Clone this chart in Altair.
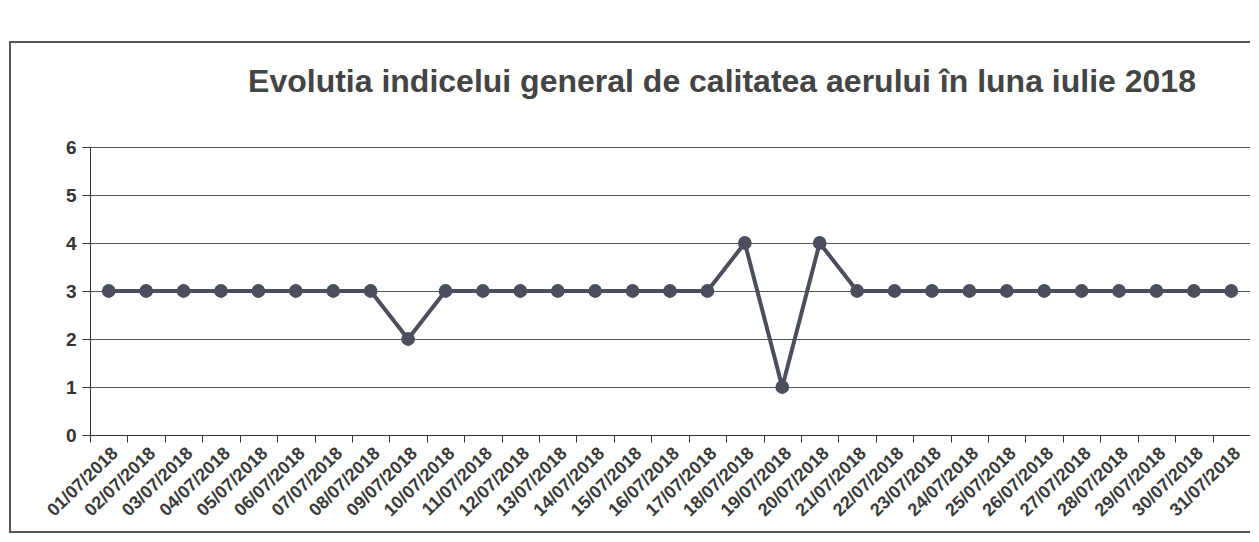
import altair as alt
import pandas as pd

dates = [f"{d:02d}/07/2018" for d in range(1, 32)]
values = [3, 3, 3, 3, 3, 3, 3, 3, 2, 3, 3, 3, 3, 3, 3, 3, 3, 4, 1, 4,
          3, 3, 3, 3, 3, 3, 3, 3, 3, 3, 3]
title_text = "Evolutia indicelui general de calitatea aerului în luna iulie 2018"

df = pd.DataFrame({"date": dates, "value": values})

col = "#4b4e5c"
x = alt.X("date:N", sort=dates, title=None,
          scale=alt.Scale(paddingInner=0, paddingOuter=0),
          axis=alt.Axis(labelAngle=316, labelFontSize=18, labelFontWeight="bold",
                        labelColor="#3a3a3a", tickBand="extent", tickColor="#333",
                        tickSize=7, domainColor="#333", labelPadding=2,
                        labelFont="Liberation Sans"))
y = alt.Y("value:Q", title=None,
          scale=alt.Scale(domain=[0, 6]),
          axis=alt.Axis(values=[0, 1, 2, 3, 4, 5, 6], labelFontSize=19,
                        labelFontWeight="bold", labelColor="#333",
                        gridColor="#555", gridWidth=1, tickColor="#333",
                        tickSize=8, domainColor="#333", labelPadding=6,
                        labelFont="Liberation Sans"))

frame = alt.Chart(df).mark_rect(fill=None, stroke="#555", strokeWidth=1.5).encode(
    x=alt.value(-80), x2=alt.value(1175), y=alt.value(-105), y2=alt.value(385))
line = alt.Chart(df).mark_line(color=col, strokeWidth=4).encode(x=x, y=y)
pts = alt.Chart(df).mark_circle(color=col, size=190, opacity=1).encode(x=x, y=y)

chart = (frame + line + pts).properties(
    width=1160, height=288,
    title=alt.TitleParams(title_text, fontSize=32, font="Liberation Sans",
                          fontWeight="bold", color="#444", offset=-58, dx=52),
    autosize=alt.AutoSizeParams(type="none"),
    padding={"left": 82, "top": 139, "right": 0, "bottom": 100},
).configure_view(stroke=None)

chart.save("out.html", embed_options={"renderer": "svg", "actions": False})
